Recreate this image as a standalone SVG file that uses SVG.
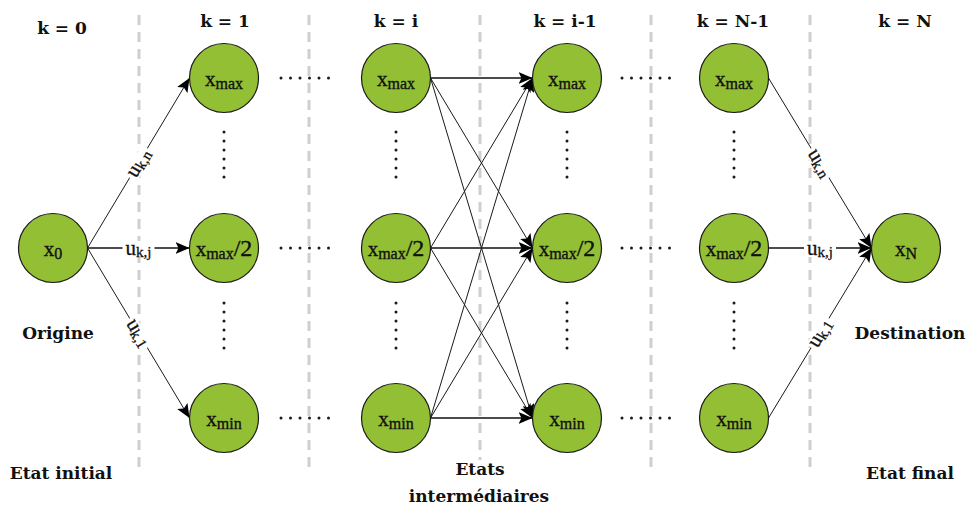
<svg xmlns="http://www.w3.org/2000/svg" width="970" height="508" viewBox="0 0 970 508">
<style>
.sep{stroke:#cfcfcf;stroke-width:3;stroke-dasharray:10 7;fill:none}
.dots{stroke:#1a1a1a;stroke-width:3;stroke-linecap:round;stroke-dasharray:0 9.5;fill:none}
.vdots{stroke:#1a1a1a;stroke-width:3;stroke-linecap:round;stroke-dasharray:0 9;fill:none}
.node{fill:#93bf35;stroke:#1a1a1a;stroke-width:1.2}
.nt{font-family:"Liberation Serif",serif;font-size:21px;fill:#111;stroke:#111;stroke-width:0.35;text-anchor:middle}
.sub{font-size:16px}
.big{font-size:24px}
.edge{stroke:#1a1a1a;stroke-width:1;fill:none;marker-end:url(#arr)}
.hedge{stroke:#111;stroke-width:1.6;fill:none;marker-end:url(#arr)}
.lbl{font-family:"DejaVu Serif",serif;font-weight:bold;font-size:17px;fill:#111;text-anchor:middle}
.ut{font-family:"Liberation Serif",serif;font-size:21px;fill:#111;stroke:#111;stroke-width:0.3;text-anchor:middle}
.us{font-size:15px}
.bg{fill:#fff}
</style>
<defs>
<marker id="arr" markerUnits="userSpaceOnUse" markerWidth="15" markerHeight="12" refX="14" refY="6" orient="auto">
<path d="M0,0 L14,6 L0,12 L3,6 z" fill="#000"/>
</marker>
</defs>
<g id="separators">
<line class="sep" x1="139" y1="15" x2="139" y2="474"/>
<line class="sep" x1="309" y1="15" x2="309" y2="474"/>
<line class="sep" x1="480" y1="15" x2="480" y2="460"/>
<line class="sep" x1="651" y1="15" x2="651" y2="474"/>
<line class="sep" x1="810" y1="15" x2="810" y2="474"/>
</g>
<g id="headers">
<text class="lbl" x="62" y="34">k = 0</text>
<text class="lbl" x="225" y="27">k = 1</text>
<text class="lbl" x="396" y="27">k = i</text>
<text class="lbl" x="565" y="27">k = i-1</text>
<text class="lbl" x="733" y="27">k = N-1</text>
<text class="lbl" x="905" y="27">k = N</text>
</g>
<g id="dotted">
<line class="dots" x1="281" y1="78" x2="338" y2="78"/>
<line class="dots" x1="281" y1="248" x2="338" y2="248"/>
<line class="dots" x1="281" y1="418" x2="338" y2="418"/>
<line class="dots" x1="622" y1="78" x2="679" y2="78"/>
<line class="dots" x1="622" y1="248" x2="679" y2="248"/>
<line class="dots" x1="622" y1="418" x2="679" y2="418"/>
<line class="vdots" x1="224" y1="132" x2="224" y2="186"/>
<line class="vdots" x1="224" y1="303" x2="224" y2="357"/>
<line class="vdots" x1="396" y1="132" x2="396" y2="186"/>
<line class="vdots" x1="396" y1="303" x2="396" y2="357"/>
<line class="vdots" x1="567" y1="132" x2="567" y2="186"/>
<line class="vdots" x1="567" y1="303" x2="567" y2="357"/>
<line class="vdots" x1="734" y1="132" x2="734" y2="186"/>
<line class="vdots" x1="734" y1="303" x2="734" y2="357"/>
</g>
<g id="connectors">
<line class="edge" x1="87.5" y1="248" x2="189.5" y2="78"/>
<line class="hedge" x1="87.5" y1="248" x2="189.5" y2="248"/>
<line class="edge" x1="87.5" y1="248" x2="189.5" y2="418"/>
<line class="hedge" x1="430.5" y1="78" x2="532.5" y2="78"/>
<line class="edge" x1="430.5" y1="78" x2="532.5" y2="248"/>
<line class="edge" x1="430.5" y1="78" x2="532.5" y2="418"/>
<line class="edge" x1="430.5" y1="248" x2="532.5" y2="78"/>
<line class="hedge" x1="430.5" y1="248" x2="532.5" y2="248"/>
<line class="edge" x1="430.5" y1="248" x2="532.5" y2="418"/>
<line class="edge" x1="430.5" y1="418" x2="532.5" y2="78"/>
<line class="edge" x1="430.5" y1="418" x2="532.5" y2="248"/>
<line class="hedge" x1="430.5" y1="418" x2="532.5" y2="418"/>
<line class="edge" x1="768.5" y1="78" x2="871.5" y2="248"/>
<line class="hedge" x1="768.5" y1="248" x2="871.5" y2="248"/>
<line class="edge" x1="768.5" y1="418" x2="871.5" y2="248"/>
<g id="edge-labels">
<g transform="translate(138.5,163) rotate(-59)"><rect class="bg" x="-17" y="-6" width="34" height="14"/><text class="ut" x="0" y="6">u<tspan class="us" dy="2">k,n</tspan></text></g>
<g transform="translate(138.5,248)"><rect class="bg" x="-16" y="-7" width="32" height="16"/><text class="ut" x="0" y="7">u<tspan class="us" dy="2">k,j</tspan></text></g>
<g transform="translate(138.5,333) rotate(59)"><rect class="bg" x="-17" y="-6" width="34" height="14"/><text class="ut" x="0" y="6">u<tspan class="us" dy="2">k,1</tspan></text></g>
<g transform="translate(820,163) rotate(59)"><rect class="bg" x="-17" y="-6" width="34" height="14"/><text class="ut" x="0" y="6">u<tspan class="us" dy="2">k,n</tspan></text></g>
<g transform="translate(820,248)"><rect class="bg" x="-16" y="-7" width="32" height="16"/><text class="ut" x="0" y="7">u<tspan class="us" dy="2">k,j</tspan></text></g>
<g transform="translate(820,333) rotate(-59)"><rect class="bg" x="-17" y="-6" width="34" height="14"/><text class="ut" x="0" y="6">u<tspan class="us" dy="2">k,1</tspan></text></g>
</g>
</g>
<g id="n-x0"><circle class="node" cx="53" cy="248" r="34.5"/><text class="nt" x="53" y="256">x<tspan class="sub" dy="2.5">0</tspan></text></g>
<g id="n-1-max"><circle class="node" cx="224" cy="78" r="34.5"/><text class="nt" x="224" y="86">x<tspan class="sub" dy="2.5">max</tspan></text></g>
<g id="n-1-half"><circle class="node" cx="224" cy="248" r="34.5"/><text class="nt" x="224" y="256">x<tspan class="sub" dy="2.5">max</tspan><tspan class="big" dy="-2.5">/2</tspan></text></g>
<g id="n-1-min"><circle class="node" cx="224" cy="418" r="34.5"/><text class="nt" x="224" y="426">x<tspan class="sub" dy="2.5">min</tspan></text></g>
<g id="n-i-max"><circle class="node" cx="396" cy="78" r="34.5"/><text class="nt" x="396" y="86">x<tspan class="sub" dy="2.5">max</tspan></text></g>
<g id="n-i-half"><circle class="node" cx="396" cy="248" r="34.5"/><text class="nt" x="396" y="256">x<tspan class="sub" dy="2.5">max</tspan><tspan class="big" dy="-2.5">/2</tspan></text></g>
<g id="n-i-min"><circle class="node" cx="396" cy="418" r="34.5"/><text class="nt" x="396" y="426">x<tspan class="sub" dy="2.5">min</tspan></text></g>
<g id="n-i1-max"><circle class="node" cx="567" cy="78" r="34.5"/><text class="nt" x="567" y="86">x<tspan class="sub" dy="2.5">max</tspan></text></g>
<g id="n-i1-half"><circle class="node" cx="567" cy="248" r="34.5"/><text class="nt" x="567" y="256">x<tspan class="sub" dy="2.5">max</tspan><tspan class="big" dy="-2.5">/2</tspan></text></g>
<g id="n-i1-min"><circle class="node" cx="567" cy="418" r="34.5"/><text class="nt" x="567" y="426">x<tspan class="sub" dy="2.5">min</tspan></text></g>
<g id="n-N1-max"><circle class="node" cx="734" cy="78" r="34.5"/><text class="nt" x="734" y="86">x<tspan class="sub" dy="2.5">max</tspan></text></g>
<g id="n-N1-half"><circle class="node" cx="734" cy="248" r="34.5"/><text class="nt" x="734" y="256">x<tspan class="sub" dy="2.5">max</tspan><tspan class="big" dy="-2.5">/2</tspan></text></g>
<g id="n-N1-min"><circle class="node" cx="734" cy="418" r="34.5"/><text class="nt" x="734" y="426">x<tspan class="sub" dy="2.5">min</tspan></text></g>
<g id="n-xN"><circle class="node" cx="906" cy="248" r="34.5"/><text class="nt" x="906" y="256">x<tspan class="sub" dy="2.5">N</tspan></text></g>
<g id="labels">
<text class="lbl" x="58" y="339">Origine</text>
<text class="lbl" x="910" y="339">Destination</text>
<text class="lbl" x="61" y="479">Etat initial</text>
<text class="lbl" x="480" y="475">Etats</text>
<text class="lbl" x="479" y="502">intermédiaires</text>
<text class="lbl" x="910" y="479">Etat final</text>
</g>
</svg>
